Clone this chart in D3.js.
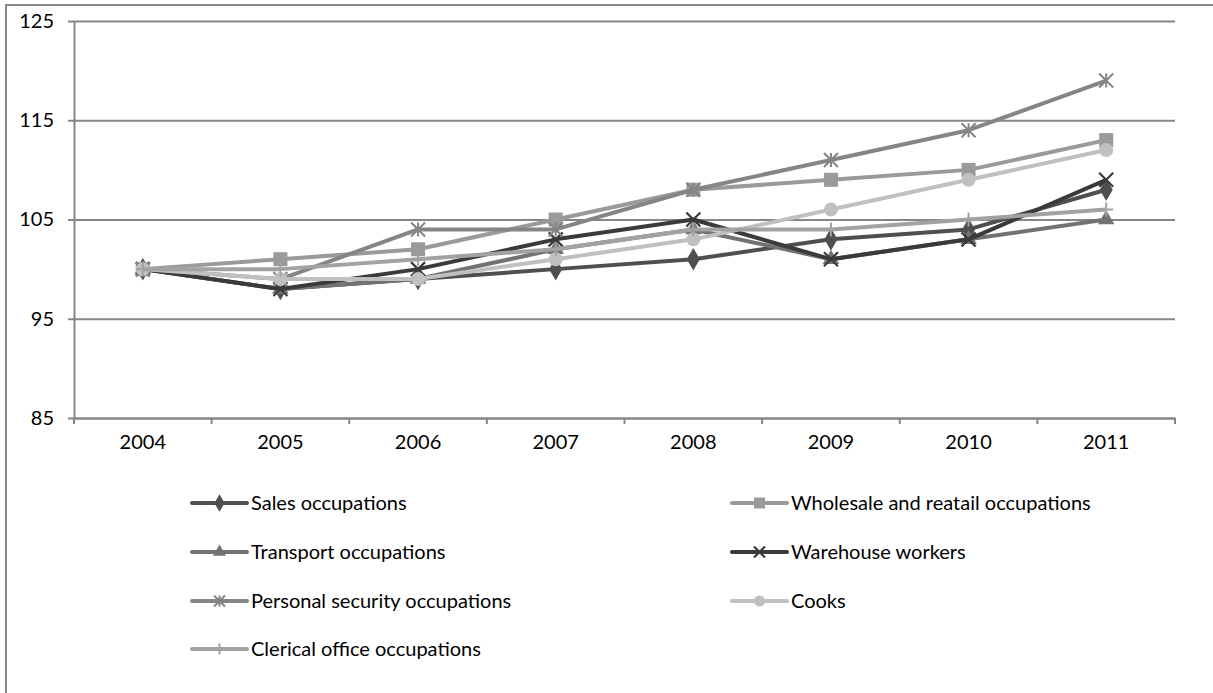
<!DOCTYPE html>
<html>
<head>
<meta charset="utf-8">
<script src="https://cdn.jsdelivr.net/npm/d3@7"></script>
<style>
  body { margin: 0; background: #fff; }
  text { font-family: Lato, "Liberation Sans", sans-serif; fill: #000; }
</style>
</head>
<body>
<div id="chart"></div>
<script>
// chart data
var years = ["2004", "2005", "2006", "2007", "2008", "2009", "2010", "2011"];
var yTicks = [85, 95, 105, 115, 125];

var seriesNames = ["Sales occupations", "Wholesale and reatail occupations", "Transport occupations",
  "Warehouse workers", "Personal security occupations", "Cooks", "Clerical office occupations"];

var sales = [100, 98, 99, 100, 101, 103, 104, 108];
var wholesale = [100, 101, 102, 105, 108, 109, 110, 113];
var transport = [100, 98, 99, 102, 104, 101, 103, 105];
var warehouse = [100, 98, 100, 103, 105, 101, 103, 109];
var security = [100, 99, 104, 104, 108, 111, 114, 119];
var cooks = [100, 99, 99, 101, 103, 106, 109, 112];
var clerical = [100, 100, 101, 102, 104, 104, 105, 106];

var seriesValues = [sales, wholesale, transport, warehouse, security, cooks, clerical];
var colors = ["#4f4f4f", "#9a9a9a", "#727272", "#3a3a3a", "#858585", "#c0c0c0", "#a2a2a2"];
var markers = ["diamond", "square", "triangle", "x", "star", "circle", "plus"];

// dimensions
var W = 1213, H = 693;
var margin = { top: 21, left: 74, right: 38, bottom: 275 };
var width = W - margin.left - margin.right,
  height = H - margin.top - margin.bottom;

var svg = d3.select("#chart").append("svg")
  .attr("width", W)
  .attr("height", H);

// outer chart border
svg.append("rect")
  .attr("x", 6).attr("y", 5)
  .attr("width", W + 10).attr("height", H + 10)
  .attr("fill", "none")
  .attr("stroke", "#868686")
  .attr("stroke-width", 2);

var g = svg.append("g")
  .attr("transform", "translate(" + margin.left + "," + margin.top + ")");

var x = d3.scaleBand().domain(years).range([0, width]).padding(0);
var y = d3.scaleLinear().domain([85, 125]).range([height, 0]);
var cx = function (d, i) { return x(years[i]) + x.bandwidth() / 2; };

// gridlines
g.append("g")
  .call(d3.axisLeft(y).tickValues(yTicks).tickSize(-width).tickFormat(""))
  .call(function (s) { s.select(".domain").remove(); })
  .selectAll("line")
  .attr("stroke", "#868686")
  .attr("stroke-width", 2);

// y axis
var yAxis = g.append("g")
  .call(d3.axisLeft(y).tickValues(yTicks).tickSizeInner(6).tickSizeOuter(0).tickPadding(14));
yAxis.selectAll("line, path").attr("stroke", "#868686").attr("stroke-width", 2);
yAxis.selectAll("text").style("font-size", "20px");

// x axis with ticks at category boundaries
var xAxis = g.append("g")
  .attr("transform", "translate(0," + height + ")")
  .call(d3.axisBottom(x).tickSizeInner(0).tickSizeOuter(0).tickPadding(17));
xAxis.select(".domain").attr("stroke", "#868686").attr("stroke-width", 2);
xAxis.selectAll("text").style("font-size", "20px");

var bounds = years.map(function (d) { return x(d); }).concat([width]);
g.append("g").selectAll("line")
  .data(bounds)
  .enter().append("line")
  .attr("x1", function (d) { return d; })
  .attr("x2", function (d) { return d; })
  .attr("y1", height)
  .attr("y2", height + 6)
  .attr("stroke", "#868686")
  .attr("stroke-width", 2);

// marker drawing
function drawMarker(sel, type, color, size) {
  var r = size / 2;
  if (type === "diamond") {
    sel.append("path").attr("d", d3.symbol(d3.symbolDiamond, size * size * 0.75)())
      .attr("fill", color);
  } else if (type === "square") {
    sel.append("rect").attr("x", -r).attr("y", -r).attr("width", size).attr("height", size)
      .attr("fill", color);
  } else if (type === "triangle") {
    sel.append("path").attr("d", d3.symbol(d3.symbolTriangle, size * size * 0.6)())
      .attr("fill", color);
  } else if (type === "circle") {
    sel.append("circle").attr("r", r).attr("fill", color);
  } else if (type === "x") {
    sel.append("path").attr("d", "M" + -r + "," + -r + "L" + r + "," + r + "M" + -r + "," + r + "L" + r + "," + -r)
      .attr("stroke", color).attr("stroke-width", 2.2).attr("fill", "none");
  } else if (type === "star") {
    sel.append("path").attr("d", "M" + -r + "," + -r + "L" + r + "," + r + "M" + -r + "," + r + "L" + r + "," + -r +
      "M0," + -r + "L0," + r)
      .attr("stroke", color).attr("stroke-width", 2).attr("fill", "none");
  } else if (type === "plus") {
    sel.append("path").attr("d", "M" + -r + ",0L" + r + ",0M0," + -r + "L0," + r)
      .attr("stroke", color).attr("stroke-width", 2).attr("fill", "none");
  }
}

// lines and markers
var line = d3.line()
  .x(cx)
  .y(function (d) { return y(d); });

seriesValues.forEach(function (vals, k) {
  var sg = g.append("g");
  sg.append("path")
    .datum(vals)
    .attr("d", line)
    .attr("fill", "none")
    .attr("stroke", colors[k])
    .attr("stroke-width", 4)
    .attr("stroke-linejoin", "round");
  sg.selectAll("g.mk")
    .data(vals)
    .enter().append("g")
    .attr("class", "mk")
    .attr("transform", function (d, i) { return "translate(" + cx(d, i) + "," + y(d) + ")"; })
    .each(function () { drawMarker(d3.select(this), markers[k], colors[k], 14); });
});

// legend
var legendCols = [{ x: 192, tx: 251 }, { x: 732, tx: 791 }];
var legendRows = [503, 552, 601, 649];

seriesNames.forEach(function (name, k) {
  var col = legendCols[k % 2], rowY = legendRows[Math.floor(k / 2)];
  var lg = svg.append("g").attr("transform", "translate(" + col.x + "," + rowY + ")");
  var len = col.tx - col.x - 4;
  lg.append("line")
    .attr("x1", 0).attr("x2", len)
    .attr("stroke", colors[k])
    .attr("stroke-width", 4)
    .attr("stroke-linecap", "round");
  var mg = lg.append("g").attr("transform", "translate(" + (len / 2) + ",0)");
  drawMarker(mg, markers[k], colors[k], 11);
  lg.append("text")
    .attr("x", col.tx - col.x)
    .attr("dy", "0.35em")
    .style("font-size", "20px")
    .text(name);
});
</script>
</body>
</html>
